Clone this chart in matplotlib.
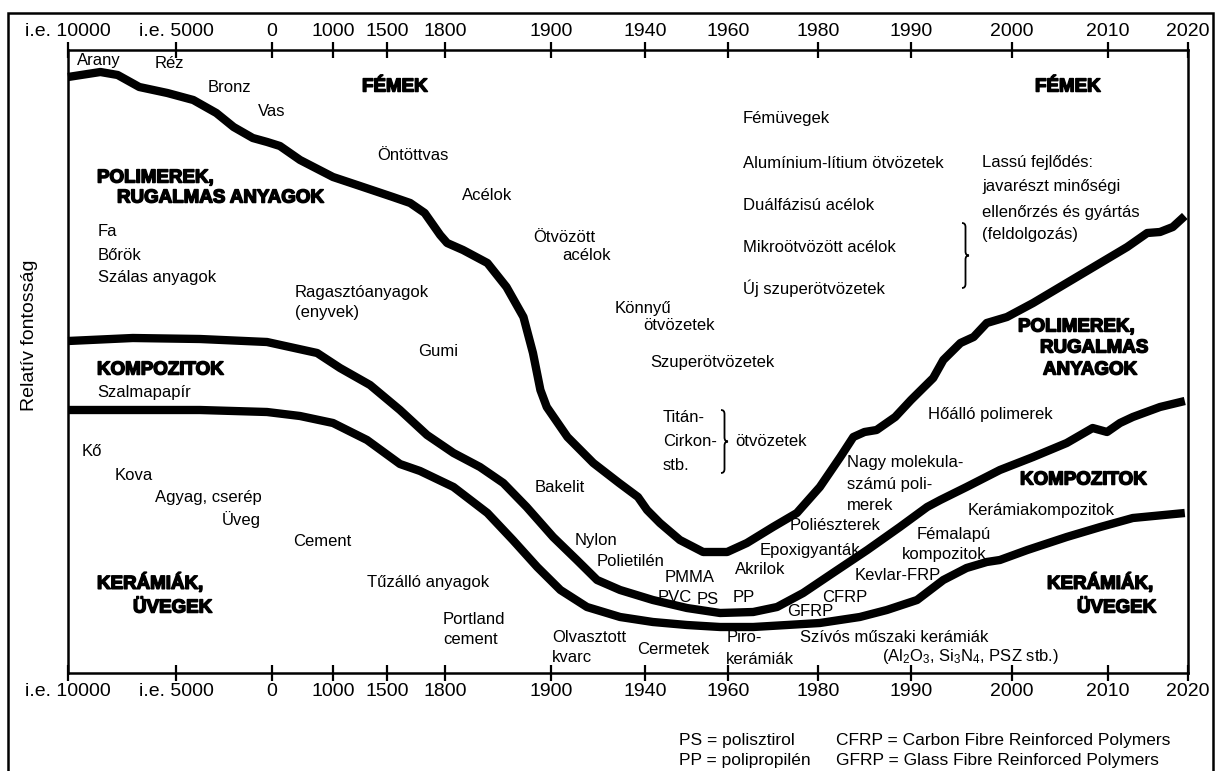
import numpy as np
import matplotlib.pyplot as plt
import matplotlib.patheffects as pe
from matplotlib.patches import Rectangle, PathPatch
from matplotlib.path import Path

plt.rcParams['font.family'] = ['Liberation Sans', 'DejaVu Sans']
plt.rcParams['mathtext.fontset'] = 'custom'
plt.rcParams['mathtext.rm'] = 'Liberation Sans'
plt.rcParams['mathtext.it'] = 'Liberation Sans:italic'

W, H = 1219, 771

# időtengely (nemlineáris): évszámok, feliratok és a tengelyen elfoglalt helyük
tick_years = [-10000, -5000, 0, 1000, 1500, 1800, 1900, 1940, 1960, 1980, 1990, 2000, 2010, 2020]
tick_labels = ['i.e. 10000', 'i.e. 5000', '0', '1000', '1500', '1800', '1900',
               '1940', '1960', '1980', '1990', '2000', '2010', '2020']
tick_pos = [68, 176, 272, 333, 387, 445, 551, 645, 728, 818, 911, 1012, 1108, 1188]

# fémek / polimerek határa
metal_years = [-10000, -8500, -7700, -6700, -5400, -4100, -2900, -2000, -1000, -250, 130, 460,
               1000, 1250, 1530, 1620, 1695, 1775, 1802, 1817, 1840, 1858, 1874, 1883, 1890,
               1896, 1907, 1918, 1929, 1937, 1940.5, 1943.6, 1948.4, 1954, 1959.8, 1964.2,
               1970, 1975.3, 1980.2, 1982.4, 1983.8, 1985, 1986.3, 1988.3, 1990, 1992.2,
               1993.2, 1994.9, 1996.2, 1997.5, 1999.5, 2002.2, 2005.7, 2009.2, 2012.4,
               2014.9, 2016.5, 2018.1, 2019.6]
metal_imp = [119.2, 120.2, 119.6, 117.2, 116, 114.6, 112, 109.2, 107, 106.2, 105.4, 102.6,
             99.2, 97.4, 95.2, 94, 92, 87.6, 86, 84.6, 82, 77.2, 71.2, 64, 56.6,
             53.2, 47.2, 42, 38, 35.2, 32.6, 30, 26.6, 24.2, 24.2, 26,
             29.2, 32, 37.2, 43.2, 47.2, 48.2, 48.6, 51.2, 54.6, 59,
             62.6, 66, 67.2, 70, 71.2, 74, 78, 82, 85.2,
             88, 88.2, 89.2, 91.4]

# polimerek / kompozitok határa
polymer_years = [-10000, -7000, -3750, -260, 740, 1065, 1343, 1567, 1707, 1808, 1833, 1855,
                 1877, 1900.9, 1911, 1919.6, 1929.4, 1941.9, 1950.1, 1958.1, 1965.6, 1970.9,
                 1976.7, 1981.6, 1985.3, 1988.8, 1991.6, 1992.9, 1995.5, 1998.8, 2002.2,
                 2005.7, 2008.4, 2009.9, 2011.5, 2013.1, 2016.5, 2019.6]
polymer_imp = [66.4, 67, 66.8, 66.2, 64, 61, 57.6, 52.6, 47.6, 44, 41.2, 38,
               33.2, 27.2, 22.6, 18.6, 16.6, 14.6, 13, 12, 12.2, 13.2,
               16, 20, 24.6, 29.2, 33.2, 34.6, 37.2, 40.6, 43.2,
               46, 49, 48.2, 50, 51.2, 53.2, 54.4]

# kompozitok / kerámiák határa
ceramic_years = [-10000, -3750, -260, 459, 1000, 1315, 1567, 1671, 1808, 1840, 1864, 1887,
                 1904, 1915.3, 1929.4, 1941.9, 1950.1, 1958.1, 1965.6, 1973.1, 1980.2,
                 1984.5, 1987.4, 1990.6, 1993.2, 1995.5, 1997.5, 1998.8, 2001.6, 2005.7,
                 2009.2, 2013.1, 2019.6]
ceramic_imp = [52.6, 52.6, 52.2, 51.4, 50, 46.6, 41.8, 40.4, 37.2, 32, 26.6, 21.2,
               16.6, 13.2, 11.2, 10.2, 9.6, 9.2, 9.2, 9.6, 10,
               11.2, 12.6, 14.6, 18.6, 21, 22.2, 22.6, 24.6, 27.2,
               29.2, 31, 32]


def fwd(x):
    return np.interp(x, tick_years, tick_pos)


def inv(p):
    return np.interp(p, tick_pos, tick_years)


fig = plt.figure(figsize=(W / 100, H / 100), dpi=100)
ax = fig.add_axes([68 / W, (H - 673) / H, (1188 - 68) / W, (673 - 50) / H])
ax.set_xscale('function', functions=(fwd, inv))
ax.set_xlim(-10000, 2020)
ax.set_ylim(0, 124.6)

for yrs, imp in [(metal_years, metal_imp), (polymer_years, polymer_imp),
                 (ceramic_years, ceramic_imp)]:
    ax.plot(yrs, imp, color='black', lw=6, solid_joinstyle='round',
            solid_capstyle='butt', clip_on=False)

ax.set_xticks(tick_years)
ax.set_xticklabels(tick_labels)
ax.set_yticks([])
ax.tick_params(axis='x', top=True, labeltop=True, bottom=True, labelbottom=True,
               direction='inout', length=11, width=1.6, labelsize=14, pad=2)
ax.xaxis.set_minor_locator(plt.NullLocator())
for sp in ax.spines.values():
    sp.set_linewidth(1.8)

# külső keret
fig.add_artist(Rectangle((8 / W, -0.01), (1213 - 8) / W, 1.01 - 13 / H, fill=False,
                         lw=1.8, ec='black', transform=fig.transFigure))

fig.text(30 / W, 1 - 335 / H, 'Relatív fontosság', rotation=90, fontsize=14,
         va='center', ha='center')


def label(s, x, y, size=12, bold=False):
    t = fig.text(x / W, 1 - y / H, s, fontsize=size, va='center', ha='left',
                 fontweight='bold' if bold else 'normal')
    if bold:
        t.set_path_effects([pe.withStroke(linewidth=1.1, foreground='black')])


bold_labels = [
    ('FÉMEK', 362, 87), ('FÉMEK', 1035, 87),
    ('POLIMEREK,', 97, 178), ('RUGALMAS ANYAGOK', 117, 198),
    ('KOMPOZITOK', 97, 370),
    ('KERÁMIÁK,', 97, 583), ('ÜVEGEK', 133, 608),
    ('POLIMEREK,', 1018, 327), ('RUGALMAS', 1040, 348), ('ANYAGOK', 1043, 370),
    ('KOMPOZITOK', 1020, 480),
    ('KERÁMIÁK,', 1047, 583), ('ÜVEGEK', 1077, 608),
]
for s, x, y in bold_labels:
    label(s, x, y, size=13.5, bold=True)

plain_labels = [
    ('Arany', 77, 60), ('Réz', 155, 64), ('Bronz', 208, 87), ('Vas', 258, 111),
    ('Öntöttvas', 377, 155), ('Acélok', 462, 195), ('Ötvözött', 533, 237),
    ('acélok', 562, 255), ('Fa', 98, 232), ('Bőrök', 98, 255),
    ('Szálas anyagok', 98, 277), ('Ragasztóanyagok', 295, 292), ('(enyvek)', 295, 313),
    ('Gumi', 418, 352), ('Szalmapapír', 97, 393), ('Könnyű', 615, 308),
    ('ötvözetek', 643, 325), ('Szuperötvözetek', 650, 363),
    ('Fémüvegek', 743, 118), ('Alumínium-lítium ötvözetek', 743, 163),
    ('Duálfázisú acélok', 743, 205), ('Mikroötvözött acélok', 743, 247),
    ('Új szuperötvözetek', 743, 288),
    ('Lassú fejlődés:', 982, 163), ('javarészt minőségi', 982, 187),
    ('ellenőrzés és gyártás', 982, 212), ('(feldolgozás)', 982, 235),
    ('Kő', 82, 452), ('Kova', 115, 475), ('Agyag, cserép', 155, 497), ('Üveg', 222, 520),
    ('Cement', 293, 542), ('Tűzálló anyagok', 367, 582), ('Portland', 443, 620),
    ('cement', 443, 640), ('Titán-', 663, 418), ('Cirkon-', 663, 442), ('stb.', 663, 465),
    ('ötvözetek', 735, 442), ('Bakelit', 535, 487), ('Nylon', 575, 540),
    ('Polietilén', 597, 562), ('PMMA', 665, 577), ('PVC', 658, 597), ('PS', 697, 600),
    ('Akrilok', 735, 570), ('PP', 733, 597), ('Epoxigyanták', 760, 551),
    ('Poliészterek', 790, 526), ('Hőálló polimerek', 928, 415),
    ('Nagy molekula-', 847, 463), ('számú poli-', 847, 485), ('merek', 847, 505),
    ('Kerámiakompozitok', 968, 510), ('Fémalapú', 917, 535), ('kompozitok', 902, 555),
    ('Kevlar-FRP', 855, 575), ('CFRP', 822, 597), ('GFRP', 787, 612),
    ('Olvasztott', 552, 637), ('kvarc', 552, 657), ('Cermetek', 637, 650),
    ('Piro-', 727, 638), ('kerámiák', 726, 660), ('Szívós műszaki kerámiák', 800, 638),
    (r'(Al$_2$O$_3$, Si$_3$N$_4$, PSZ stb.)', 882, 657),
]
for s, x, y in plain_labels:
    label(s, x, y)

notes = [
    ('PS = polisztirol', 679, 740), ('PP = polipropilén', 679, 761),
    ('CFRP = Carbon Fibre Reinforced Polymers', 836, 740),
    ('GFRP = Glass Fibre Reinforced Polymers', 836, 761),
]
for s, x, y in notes:
    label(s, x, y, size=12.5)


def brace(x, yt, yb, w=7):
    ym = (yt + yb) / 2
    xm = x + w / 2
    pts = [(x, yt), (xm, yt), (xm, yt + 4), (xm, ym - 4), (xm, ym), (x + w, ym),
           (xm, ym), (xm, ym + 4), (xm, yb - 4), (xm, yb), (x, yb)]
    codes = [Path.MOVETO, Path.CURVE3, Path.CURVE3, Path.LINETO, Path.CURVE3, Path.CURVE3,
             Path.CURVE3, Path.CURVE3, Path.LINETO, Path.CURVE3, Path.CURVE3]
    verts = [(px / W, 1 - py / H) for px, py in pts]
    fig.add_artist(PathPatch(Path(verts, codes), fill=False, lw=1.3, ec='black',
                             transform=fig.transFigure))


brace(962, 223, 288)
brace(721, 410, 473)

fig.savefig('out.png', dpi=100)
